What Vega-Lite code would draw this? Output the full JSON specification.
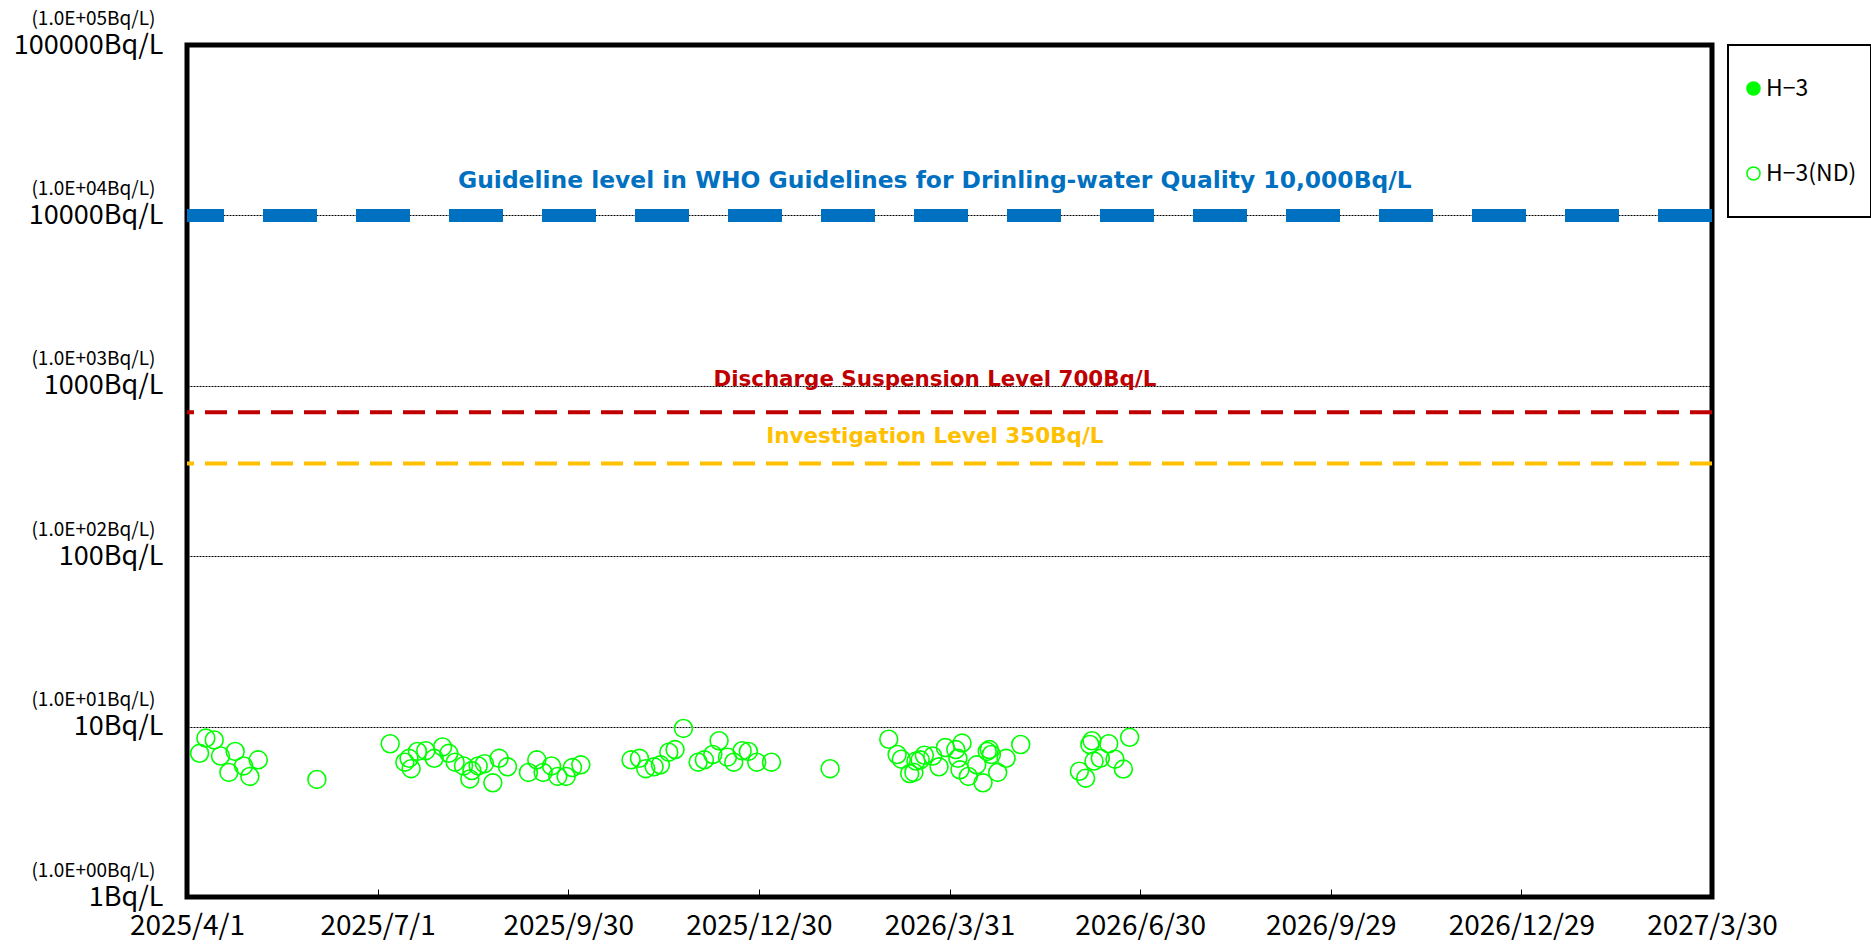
{
  "$schema": "https://vega.github.io/schema/vega-lite/v6.json",
  "width": 1525,
  "height": 852,
  "autosize": {"type": "none"},
  "padding": {"left": 187, "top": 45, "right": 159, "bottom": 51},
  "background": "white",
  "datasets": {
    "h3": [
      {"date": "2025-04-07", "value": 6.97, "series": "H−3(ND)"},
      {"date": "2025-04-10", "value": 8.57, "series": "H−3(ND)"},
      {"date": "2025-04-14", "value": 8.35, "series": "H−3(ND)"},
      {"date": "2025-04-17", "value": 6.72, "series": "H−3(ND)"},
      {"date": "2025-04-21", "value": 5.38, "series": "H−3(ND)"},
      {"date": "2025-04-24", "value": 7.15, "series": "H−3(ND)"},
      {"date": "2025-04-28", "value": 5.88, "series": "H−3(ND)"},
      {"date": "2025-05-01", "value": 5.10, "series": "H−3(ND)"},
      {"date": "2025-05-05", "value": 6.38, "series": "H−3(ND)"},
      {"date": "2025-06-02", "value": 4.9, "series": "H−3(ND)"},
      {"date": "2025-07-07", "value": 7.93, "series": "H−3(ND)"},
      {"date": "2025-07-14", "value": 6.18, "series": "H−3(ND)"},
      {"date": "2025-07-16", "value": 6.51, "series": "H−3(ND)"},
      {"date": "2025-07-17", "value": 5.66, "series": "H−3(ND)"},
      {"date": "2025-07-20", "value": 7.15, "series": "H−3(ND)"},
      {"date": "2025-07-24", "value": 7.22, "series": "H−3(ND)"},
      {"date": "2025-07-28", "value": 6.51, "series": "H−3(ND)"},
      {"date": "2025-08-01", "value": 7.60, "series": "H−3(ND)"},
      {"date": "2025-08-04", "value": 6.97, "series": "H−3(ND)"},
      {"date": "2025-08-07", "value": 6.18, "series": "H−3(ND)"},
      {"date": "2025-08-11", "value": 5.88, "series": "H−3(ND)"},
      {"date": "2025-08-14", "value": 4.93, "series": "H−3(ND)"},
      {"date": "2025-08-15", "value": 5.52, "series": "H−3(ND)"},
      {"date": "2025-08-18", "value": 5.88, "series": "H−3(ND)"},
      {"date": "2025-08-21", "value": 6.06, "series": "H−3(ND)"},
      {"date": "2025-08-25", "value": 4.68, "series": "H−3(ND)"},
      {"date": "2025-08-28", "value": 6.51, "series": "H−3(ND)"},
      {"date": "2025-09-01", "value": 5.81, "series": "H−3(ND)"},
      {"date": "2025-09-11", "value": 5.38, "series": "H−3(ND)"},
      {"date": "2025-09-15", "value": 6.38, "series": "H−3(ND)"},
      {"date": "2025-09-18", "value": 5.38, "series": "H−3(ND)"},
      {"date": "2025-09-22", "value": 5.88, "series": "H−3(ND)"},
      {"date": "2025-09-25", "value": 5.10, "series": "H−3(ND)"},
      {"date": "2025-09-29", "value": 5.10, "series": "H−3(ND)"},
      {"date": "2025-10-02", "value": 5.75, "series": "H−3(ND)"},
      {"date": "2025-10-06", "value": 5.97, "series": "H−3(ND)"},
      {"date": "2025-10-30", "value": 6.38, "series": "H−3(ND)"},
      {"date": "2025-11-03", "value": 6.51, "series": "H−3(ND)"},
      {"date": "2025-11-06", "value": 5.66, "series": "H−3(ND)"},
      {"date": "2025-11-10", "value": 5.81, "series": "H−3(ND)"},
      {"date": "2025-11-13", "value": 5.97, "series": "H−3(ND)"},
      {"date": "2025-11-17", "value": 7.08, "series": "H−3(ND)"},
      {"date": "2025-11-20", "value": 7.33, "series": "H−3(ND)"},
      {"date": "2025-11-24", "value": 9.75, "series": "H−3(ND)"},
      {"date": "2025-12-01", "value": 6.18, "series": "H−3(ND)"},
      {"date": "2025-12-04", "value": 6.38, "series": "H−3(ND)"},
      {"date": "2025-12-08", "value": 6.86, "series": "H−3(ND)"},
      {"date": "2025-12-11", "value": 8.26, "series": "H−3(ND)"},
      {"date": "2025-12-15", "value": 6.62, "series": "H−3(ND)"},
      {"date": "2025-12-18", "value": 6.18, "series": "H−3(ND)"},
      {"date": "2025-12-22", "value": 7.22, "series": "H−3(ND)"},
      {"date": "2025-12-25", "value": 7.15, "series": "H−3(ND)"},
      {"date": "2025-12-29", "value": 6.18, "series": "H−3(ND)"},
      {"date": "2026-01-05", "value": 6.18, "series": "H−3(ND)"},
      {"date": "2026-02-02", "value": 5.66, "series": "H−3(ND)"},
      {"date": "2026-03-02", "value": 8.43, "series": "H−3(ND)"},
      {"date": "2026-03-06", "value": 6.86, "series": "H−3(ND)"},
      {"date": "2026-03-08", "value": 6.44, "series": "H−3(ND)"},
      {"date": "2026-03-12", "value": 5.30, "series": "H−3(ND)"},
      {"date": "2026-03-14", "value": 5.38, "series": "H−3(ND)"},
      {"date": "2026-03-15", "value": 6.28, "series": "H−3(ND)"},
      {"date": "2026-03-17", "value": 6.38, "series": "H−3(ND)"},
      {"date": "2026-03-19", "value": 6.79, "series": "H−3(ND)"},
      {"date": "2026-03-23", "value": 6.72, "series": "H−3(ND)"},
      {"date": "2026-03-26", "value": 5.81, "series": "H−3(ND)"},
      {"date": "2026-03-29", "value": 7.53, "series": "H−3(ND)"},
      {"date": "2026-04-03", "value": 7.33, "series": "H−3(ND)"},
      {"date": "2026-04-04", "value": 6.51, "series": "H−3(ND)"},
      {"date": "2026-04-05", "value": 5.58, "series": "H−3(ND)"},
      {"date": "2026-04-06", "value": 8.01, "series": "H−3(ND)"},
      {"date": "2026-04-09", "value": 5.10, "series": "H−3(ND)"},
      {"date": "2026-04-13", "value": 5.97, "series": "H−3(ND)"},
      {"date": "2026-04-16", "value": 4.68, "series": "H−3(ND)"},
      {"date": "2026-04-18", "value": 7.15, "series": "H−3(ND)"},
      {"date": "2026-04-19", "value": 7.33, "series": "H−3(ND)"},
      {"date": "2026-04-20", "value": 6.86, "series": "H−3(ND)"},
      {"date": "2026-04-23", "value": 5.38, "series": "H−3(ND)"},
      {"date": "2026-04-27", "value": 6.51, "series": "H−3(ND)"},
      {"date": "2026-05-04", "value": 7.85, "series": "H−3(ND)"},
      {"date": "2026-06-01", "value": 5.47, "series": "H−3(ND)"},
      {"date": "2026-06-04", "value": 4.98, "series": "H−3(ND)"},
      {"date": "2026-06-06", "value": 7.85, "series": "H−3(ND)"},
      {"date": "2026-06-07", "value": 8.26, "series": "H−3(ND)"},
      {"date": "2026-06-08", "value": 6.28, "series": "H−3(ND)"},
      {"date": "2026-06-11", "value": 6.51, "series": "H−3(ND)"},
      {"date": "2026-06-15", "value": 7.93, "series": "H−3(ND)"},
      {"date": "2026-06-18", "value": 6.44, "series": "H−3(ND)"},
      {"date": "2026-06-22", "value": 5.63, "series": "H−3(ND)"},
      {"date": "2026-06-25", "value": 8.65, "series": "H−3(ND)"}
    ],
    "levels": [
      {"name": "who", "level": 10000, "labelDate": "2026-03-24", "label": "Guideline level in WHO Guidelines for Drinling-water Quality 10,000Bq/L"},
      {"name": "discharge", "level": 700, "labelDate": "2026-03-24", "label": "Discharge Suspension Level 700Bq/L"},
      {"name": "investigation", "level": 350, "labelDate": "2026-03-24", "label": "Investigation Level 350Bq/L"}
    ]
  },
  "layer": [
    {
      "data": {"name": "h3"},
      "mark": {"type": "point", "shape": "circle", "filled": true, "size": 320, "stroke": "#00FF00", "strokeWidth": 1.6, "opacity": 1},
      "encoding": {
        "x": {
          "field": "date", "type": "temporal",
          "scale": {"type": "utc", "domain": [{"year": 2025, "month": 4, "date": 1, "utc": true}, {"year": 2027, "month": 3, "date": 30, "utc": true}]},
          "axis": {
            "values": [1743465600000, 1751328000000, 1759190400000, 1767052800000, 1774915200000, 1782777600000, 1790640000000, 1798502400000, 1806364800000],
            "labelExpr": "utcFormat(datum.value, '%Y/%-m/%-d')",
            "title": null, "grid": false, "domain": false,
            "ticks": true, "tickSize": -8, "tickColor": "black", "tickWidth": 1,
            "labelPadding": 23, "labelFont": "Noto Sans CJK JP", "labelFontSize": 28,
            "labelColor": "black", "labelFlush": false, "labelOverlap": false, "labelBound": false
          }
        },
        "y": {
          "field": "value", "type": "quantitative",
          "scale": {"type": "log", "domain": [1, 100000], "nice": false},
          "axis": {
            "orient": "left", "values": [1, 10, 100, 1000, 10000, 100000],
            "labelExpr": "datum.value + 'Bq/L'",
            "title": null, "grid": true, "gridColor": "black", "gridDash": [2, 1], "gridWidth": 1,
            "domain": false, "ticks": false, "labelPadding": 24,
            "labelFont": "Noto Sans CJK JP", "labelFontSize": 27, "labelColor": "black",
            "labelOverlap": false, "labelBaseline": "middle", "labelFlush": false, "labelBound": false
          }
        },
        "fill": {
          "field": "series", "type": "nominal",
          "scale": {"domain": ["H−3", "H−3(ND)"], "range": ["#00FF00", "transparent"]},
          "legend": {
            "title": null,
            "orient": "right", "offset": 16, "padding": 14,
            "strokeColor": "black", "rowPadding": 26, "clipHeight": 59,
            "symbolSize": 170, "symbolType": "circle",
            "symbolStrokeColor": "#00FF00", "symbolStrokeWidth": 1.5,
            "labelFont": "Noto Sans CJK JP", "labelFontSize": 23, "labelColor": "black", "labelOffset": 1
          }
        }
      }
    },
    {
      "data": {"name": "levels"},
      "transform": [{"filter": "datum.name === 'who'"}],
      "mark": {"type": "rule", "color": "#0070C0", "strokeWidth": 13, "strokeDash": [54, 39]},
      "encoding": {
        "y": {
          "field": "level", "type": "quantitative",
          "scale": {"type": "log", "domain": [1, 100000], "nice": false},
          "axis": {
            "orient": "left", "values": [1, 10, 100, 1000, 10000, 100000],
            "labelExpr": "'(1.0E+0' + round(log(datum.value)/LN10) + 'Bq/L)'",
            "title": null, "grid": false, "domain": false, "ticks": false,
            "labelPadding": 32, "labelOffset": -27, "labelFont": "Noto Sans CJK JP",
            "labelFontSize": 19, "labelColor": "black", "labelOverlap": false,
            "labelBaseline": "middle", "labelFlush": false, "labelBound": false
          }
        }
      }
    },
    {
      "data": {"name": "levels"},
      "transform": [{"filter": "datum.name === 'discharge'"}],
      "mark": {"type": "rule", "color": "#C00000", "strokeWidth": 4, "strokeDash": [22, 11]},
      "encoding": {
        "y": {"field": "level", "type": "quantitative", "scale": {"type": "log", "domain": [1, 100000], "nice": false}, "axis": null}
      }
    },
    {
      "data": {"name": "levels"},
      "transform": [{"filter": "datum.name === 'investigation'"}],
      "mark": {"type": "rule", "color": "#FFC000", "strokeWidth": 4, "strokeDash": [22, 11]},
      "encoding": {
        "y": {"field": "level", "type": "quantitative", "scale": {"type": "log", "domain": [1, 100000], "nice": false}, "axis": null}
      }
    },
    {
      "data": {"name": "levels"},
      "transform": [{"filter": "datum.name === 'who'"}],
      "mark": {"type": "text", "font": "DejaVu Sans", "fontWeight": "bold", "fontSize": 23.4, "color": "#0070C0", "align": "center", "baseline": "middle", "dy": -34},
      "encoding": {
        "x": {"field": "labelDate", "type": "temporal", "axis": {"labelExpr": "utcFormat(datum.value, '%Y/%-m/%-d')"}},
        "y": {"field": "level", "type": "quantitative", "scale": {"type": "log", "domain": [1, 100000], "nice": false}, "axis": null},
        "text": {"field": "label"}
      }
    },
    {
      "data": {"name": "levels"},
      "transform": [{"filter": "datum.name === 'discharge'"}],
      "mark": {"type": "text", "font": "DejaVu Sans", "fontWeight": "bold", "fontSize": 21.4, "color": "#C00000", "align": "center", "baseline": "middle", "dy": -32},
      "encoding": {
        "x": {"field": "labelDate", "type": "temporal", "axis": {"labelExpr": "utcFormat(datum.value, '%Y/%-m/%-d')"}},
        "y": {"field": "level", "type": "quantitative", "scale": {"type": "log", "domain": [1, 100000], "nice": false}, "axis": null},
        "text": {"field": "label"}
      }
    },
    {
      "data": {"name": "levels"},
      "transform": [{"filter": "datum.name === 'investigation'"}],
      "mark": {"type": "text", "font": "DejaVu Sans", "fontWeight": "bold", "fontSize": 21.5, "color": "#FFC000", "align": "center", "baseline": "middle", "dy": -26},
      "encoding": {
        "x": {"field": "labelDate", "type": "temporal", "axis": {"labelExpr": "utcFormat(datum.value, '%Y/%-m/%-d')"}},
        "y": {"field": "level", "type": "quantitative", "scale": {"type": "log", "domain": [1, 100000], "nice": false}, "axis": null},
        "text": {"field": "label"}
      }
    }
  ],
  "resolve": {"axis": {"y": "independent"}},
  "config": {
    "view": {"stroke": "black", "strokeWidth": 5},
    "legend": {"strokeWidth": 2}
  }
}
